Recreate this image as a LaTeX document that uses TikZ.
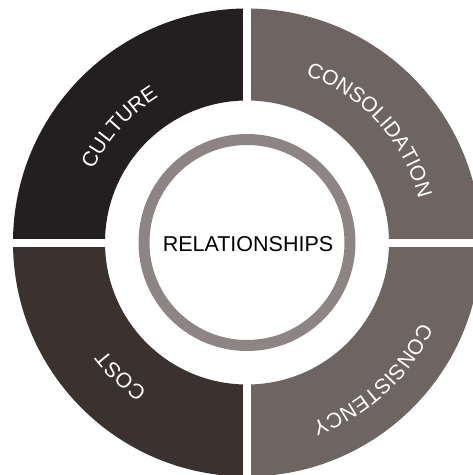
\documentclass[tikz,border=0pt]{standalone}
\usepackage{fontspec}
\setmainfont{Liberation Sans}
\usetikzlibrary{decorations.text}

\definecolor{culturecol}{HTML}{231F20}
\definecolor{costcol}{HTML}{3B3230}
\definecolor{consolcol}{HTML}{6E6563}
\definecolor{ringcol}{HTML}{8D8584}

\newcommand{\labelfont}{\fontsize{21}{25}\selectfont}

\tikzset{
  arclabel/.style={decorate, decoration={text along path, text align=center,
    text color=white, text={|\labelfont|#1}}}
}

\begin{document}
\begin{tikzpicture}[x=1pt,y=1pt]

\useasboundingbox (-247,-232.5) rectangle (226,242.5);
\fill [white] (-247,-232.5) rectangle (226,242.5);
\clip (-247,-232.5) rectangle (226,242.5);

% quadrants
\fill [culturecol] (90:234) arc (90:180:234) -- (180:142) arc (180:90:142) -- cycle;
\fill [costcol] (180:234) arc (180:270:234) -- (270:142) arc (270:180:142) -- cycle;
\fill [consolcol] (0:234) arc (0:90:234) -- (90:142) arc (90:0:142) -- cycle;
\fill [consolcol] (270:234) arc (270:360:234) -- (0:142) arc (360:270:142) -- cycle;
\draw [white, line width=8pt] (-250,0) -- (250,0);
\draw [white, line width=8pt] (0,-250) -- (0,250);

\draw [ringcol, line width=11pt] (0,0) circle (103);
\node [font=\fontsize{21.5}{25}\selectfont] (rel) at (1,-1.3) {RELATIONSHIPS};

% labels
\path [arclabel=CULTURE] (198:170) arc (198:78:170);
\path [arclabel=CONSOLIDATION] (102.5:177) arc (102.5:-17.5:177);
\path [arclabel=CONSISTENCY] (12.5:191) arc (12.5:-107.5:191);
\path [arclabel=COST] (-73.5:178) arc (-73.5:-193.5:178);
\end{tikzpicture}
\end{document}
